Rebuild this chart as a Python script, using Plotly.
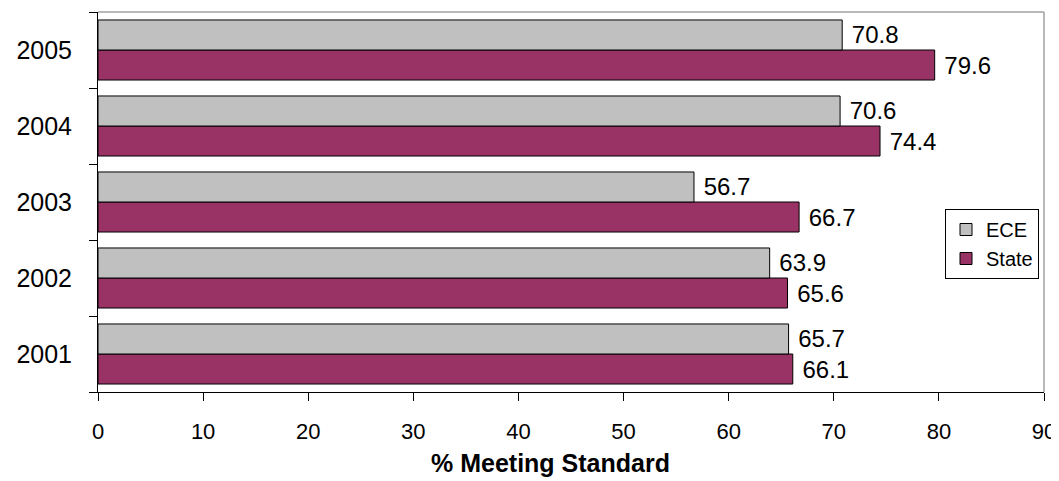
import plotly.graph_objects as go

years = ["2001", "2002", "2003", "2004", "2005"]
ece = [65.7, 63.9, 56.7, 70.6, 70.8]
state = [66.1, 65.6, 66.7, 74.4, 79.6]
x_ticks = [0, 10, 20, 30, 40, 50, 60, 70, 80, 90]

FONT = "Liberation Sans, Arial, sans-serif"

fig = go.Figure()
for name, vals, color in [("State", state, "#993366"), ("ECE", ece, "#C0C0C0")]:
    fig.add_trace(go.Bar(
        y=years, x=vals, name=name, orientation="h",
        marker=dict(color=color, line=dict(color="black", width=1)),
        text=["\u00a0" + f"{v:.1f}" for v in vals], textposition="outside",
        textfont=dict(size=24, color="black", family=FONT),
        cliponaxis=False, constraintext="none",
    ))

# page body has an 8px default margin; figure sized to fit the window
fig.update_layout(
    width=1051, height=473,
    margin=dict(l=90, r=15, t=4, b=89, autoexpand=False),
    paper_bgcolor="white", plot_bgcolor="white",
    barmode="group", bargap=0.21, bargroupgap=0,
    font=dict(family=FONT, size=20, color="black"),
    showlegend=True,
    legend=dict(
        x=(945 - 98) / (1044 - 98), y=(392 - 209) / 380, xanchor="left", yanchor="top",
        bgcolor="white", bordercolor="black", borderwidth=1,
        font=dict(size=20, family=FONT), traceorder="reversed",
        tracegroupgap=4,
    ),
    xaxis=dict(
        range=[0, 90], tickvals=x_ticks, ticks="outside", ticklen=8,
        tickcolor="black", showline=True, linecolor="black", linewidth=1,
        showgrid=False, zeroline=False, tickfont=dict(size=22),
        automargin=False, ticklabelstandoff=12,
    ),
    yaxis=dict(
        type="category", categoryorder="array", categoryarray=years,
        tickson="boundaries", ticks="outside", ticklen=8, tickcolor="black",
        showline=True, linecolor="black", linewidth=1, showgrid=False,
        tickfont=dict(size=25), ticklabelstandoff=20, automargin=False,
    ),
    shapes=[
        dict(type="line", xref="paper", yref="paper", x0=0, x1=1, y0=1, y1=1,
             line=dict(color="#A0A0A0", width=1.5), layer="below"),
        dict(type="line", xref="paper", yref="paper", x0=1, x1=1, y0=0, y1=1,
             line=dict(color="#A0A0A0", width=1.5), layer="below"),
    ],
    annotations=[
        dict(text="<b>% Meeting Standard</b>", xref="paper", yref="paper",
             x=(550 - 98) / (1044 - 98), y=0, yshift=-71, xanchor="center",
             yanchor="middle", showarrow=False, font=dict(size=25, family=FONT)),
    ],
)

fig.write_html("out.html")
